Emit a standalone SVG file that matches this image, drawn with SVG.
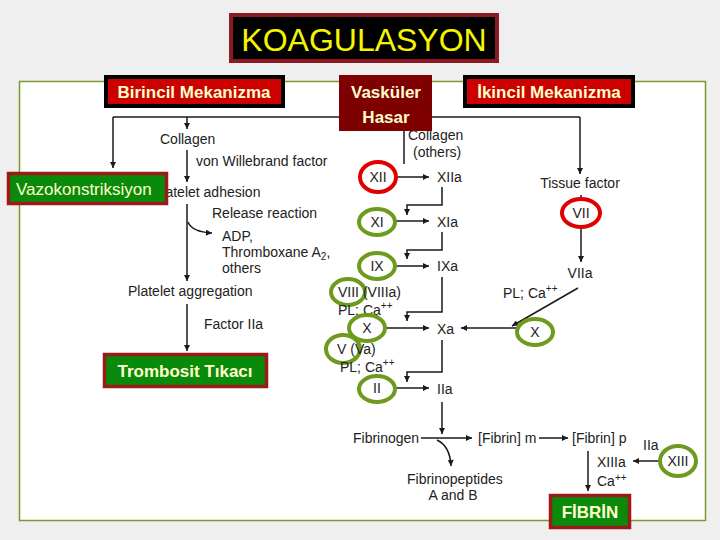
<svg xmlns="http://www.w3.org/2000/svg" width="720" height="540" viewBox="0 0 720 540">
<defs>
<marker id="ah" viewBox="0 0 10 10" refX="10" refY="5" markerWidth="9" markerHeight="6" orient="auto" markerUnits="userSpaceOnUse"><path d="M0,0 L10,5 L0,10 z" fill="#1a1a1a"/></marker>
<style>
.t{font-family:"Liberation Sans",Arial,sans-serif;font-size:14px;fill:#222}
.c{text-anchor:middle}
.ln{fill:none;stroke:#1a1a1a;stroke-width:1.5}
.ar{fill:none;stroke:#1a1a1a;stroke-width:1.5;marker-end:url(#ah)}
.rc{fill:none;stroke:#e00000;stroke-width:4}
.gc{fill:none;stroke:#6e9a1e;stroke-width:4}
.lbl{font-family:"Liberation Sans",Arial,sans-serif;font-size:17px;fill:#ffffcc;font-weight:bold}
.redbox{fill:#cc0000;stroke:#000;stroke-width:4}
.grnbox{fill:#0a8a0a;stroke:#9b1b1b;stroke-width:3.5}
</style>
</defs>
<rect x="0" y="0" width="720" height="540" fill="#efefef"/>
<rect x="19.5" y="81.5" width="686" height="439" fill="#fff" stroke="#7a9a2a" stroke-width="1.5"/>

<g id="connectors">
<path class="ar" d="M113,117 V168"/>
<path class="ln" d="M113,117 H580"/>
<path class="ar" d="M580,117 V174"/>
<path class="ar" d="M187,117 V129"/>
<path class="ln" d="M404,117 V164"/>
<path class="ar" d="M187,150 V182"/>
<path class="ar" d="M187,204 V281"/>
<path class="ar" d="M188,222 Q192,232 212,233"/>
<path class="ar" d="M187,304 V351"/>
<path class="ar" d="M396,177 H429"/>
<path class="ar" d="M442,187 V205 H407 V215"/>
<path class="ar" d="M395,221 H429"/>
<path class="ar" d="M442,232 V250 H407 V259"/>
<path class="ar" d="M395,266 H429"/>
<path class="ar" d="M442,277 V312 H407 V321"/>
<path class="ar" d="M385,328 H429"/>
<path class="ar" d="M517,328 H461"/>
<path class="ar" d="M578,288 L512,326"/>
<path class="ar" d="M442,340 V372 H407 V382"/>
<path class="ar" d="M395,388 H429"/>
<path class="ar" d="M442,402 V434"/>
<path class="ar" d="M421,438 H472"/>
<path class="ar" d="M437,440 Q450,446 451,466"/>
<path class="ar" d="M539,438 H568"/>
<path class="ar" d="M588,451 V491"/>
<path class="ar" d="M660,461 H633"/>
<path class="ln" d="M581,195 V200"/>
<path class="ar" d="M581,228 V262"/>
</g>

<g id="primary-text">
<text class="t" x="160" y="144">Collagen</text>
<text class="t" x="196" y="166">von Willebrand factor</text>
<text class="t" x="153" y="197">Platelet adhesion</text>
<text class="t" x="212" y="218">Release reaction</text>
<text class="t" x="222" y="241">ADP,</text>
<text class="t" x="222" y="257">Thromboxane A<tspan font-size="10" dy="3">2</tspan><tspan dy="-3">,</tspan></text>
<text class="t" x="222" y="273">others</text>
<text class="t" x="128" y="296">Platelet aggregation</text>
<text class="t" x="204" y="329">Factor IIa</text>
</g>

<g id="intrinsic">
<text class="t" x="408" y="140">Collagen</text>
<text class="t" x="413" y="157">(others)</text>
<g id="n-XII"><ellipse class="rc" cx="378" cy="177" rx="18" ry="15"/><text class="t c" x="378" y="182">XII</text></g>
<text class="t" x="437" y="182">XIIa</text>
<g id="n-XI"><ellipse class="gc" cx="377" cy="222" rx="18" ry="13"/><text class="t c" x="377" y="227">XI</text></g>
<text class="t" x="437" y="227">XIa</text>
<g id="n-IX"><ellipse class="gc" cx="377" cy="266" rx="18" ry="13"/><text class="t c" x="377" y="271">IX</text></g>
<text class="t" x="437" y="271">IXa</text>
<g id="n-VIII"><ellipse class="gc" cx="348" cy="292" rx="17" ry="13"/><text class="t" x="338" y="297">VIII (VIIIa)</text></g>
<text class="t" x="338" y="315">PL; Ca<tspan font-size="10" dy="-6">++</tspan></text>
<g id="n-X"><ellipse class="gc" cx="367" cy="328" rx="18" ry="13"/><text class="t c" x="367" y="333">X</text></g>
<text class="t" x="437" y="334">Xa</text>
<g id="n-V"><ellipse class="gc" cx="343" cy="349" rx="17" ry="14"/><text class="t" x="337" y="354">V (Va)</text></g>
<text class="t" x="340" y="372">PL; Ca<tspan font-size="10" dy="-6">++</tspan></text>
<g id="n-II"><ellipse class="gc" cx="377" cy="389" rx="18" ry="13"/><text class="t c" x="377" y="393">II</text></g>
<text class="t" x="437" y="394">IIa</text>
</g>

<g id="extrinsic">
<text class="t c" x="580" y="188">Tissue factor</text>
<g id="n-VII"><ellipse class="rc" cx="581" cy="213" rx="19" ry="14"/><text class="t c" x="581" y="218">VII</text></g>
<text class="t c" x="580" y="278">VIIa</text>
<text class="t" x="503" y="298">PL; Ca<tspan font-size="10" dy="-6">++</tspan></text>
<g id="n-X2"><ellipse class="gc" cx="535" cy="332" rx="18" ry="13"/><text class="t c" x="535" y="337">X</text></g>
</g>

<g id="fibrin">
<text class="t" x="353" y="443">Fibrinogen</text>
<text class="t" x="478" y="443">[Fibrin] m</text>
<text class="t" x="572" y="443">[Fibrin] p</text>
<text class="t" x="407" y="484">Fibrinopeptides</text>
<text class="t c" x="453" y="500">A and B</text>
<text class="t" x="597" y="467">XIIIa</text>
<text class="t" x="597" y="486">Ca<tspan font-size="10" dy="-5">++</tspan></text>
<text class="t" x="643" y="450">IIa</text>
<g id="n-XIII"><ellipse class="gc" cx="678" cy="461" rx="18" ry="15"/><text class="t c" x="678" y="466">XIII</text></g>
</g>

<g id="title">
<rect x="231" y="15" width="266" height="46" fill="#000" stroke="#8b1a22" stroke-width="4"/>
<text x="364" y="51" text-anchor="middle" font-family="Liberation Sans,Arial,sans-serif" font-size="32" fill="#f5f500">KOAGULASYON</text>
</g>
<g id="birincil">
<rect class="redbox" x="106" y="77" width="177" height="29"/>
<text class="lbl c" x="194" y="98">Birincil Mekanizma</text>
</g>
<g id="vaskuler">
<rect x="339" y="75" width="93" height="56" fill="#7f0000"/>
<text class="lbl c" x="386" y="98">Vasküler</text>
<text class="lbl c" x="386" y="123">Hasar</text>
</g>
<g id="ikincil">
<rect class="redbox" x="465" y="77" width="168" height="29"/>
<text class="lbl c" x="549" y="98">İkincil Mekanizma</text>
</g>
<g id="vazo">
<rect class="grnbox" x="8.5" y="173.5" width="158" height="30"/>
<text x="16" y="195" font-family="Liberation Sans,Arial,sans-serif" font-size="17" fill="#ffffcc">Vazokonstriksiyon</text>
</g>
<g id="trombosit">
<rect class="grnbox" x="104.5" y="354.5" width="162" height="32"/>
<text class="lbl c" x="185" y="377">Trombosit Tıkacı</text>
</g>
<g id="fibrin-box">
<rect class="grnbox" x="550.5" y="495.5" width="79" height="32"/>
<text class="lbl c" x="590" y="518">FİBRİN</text>
</g>
</svg>
